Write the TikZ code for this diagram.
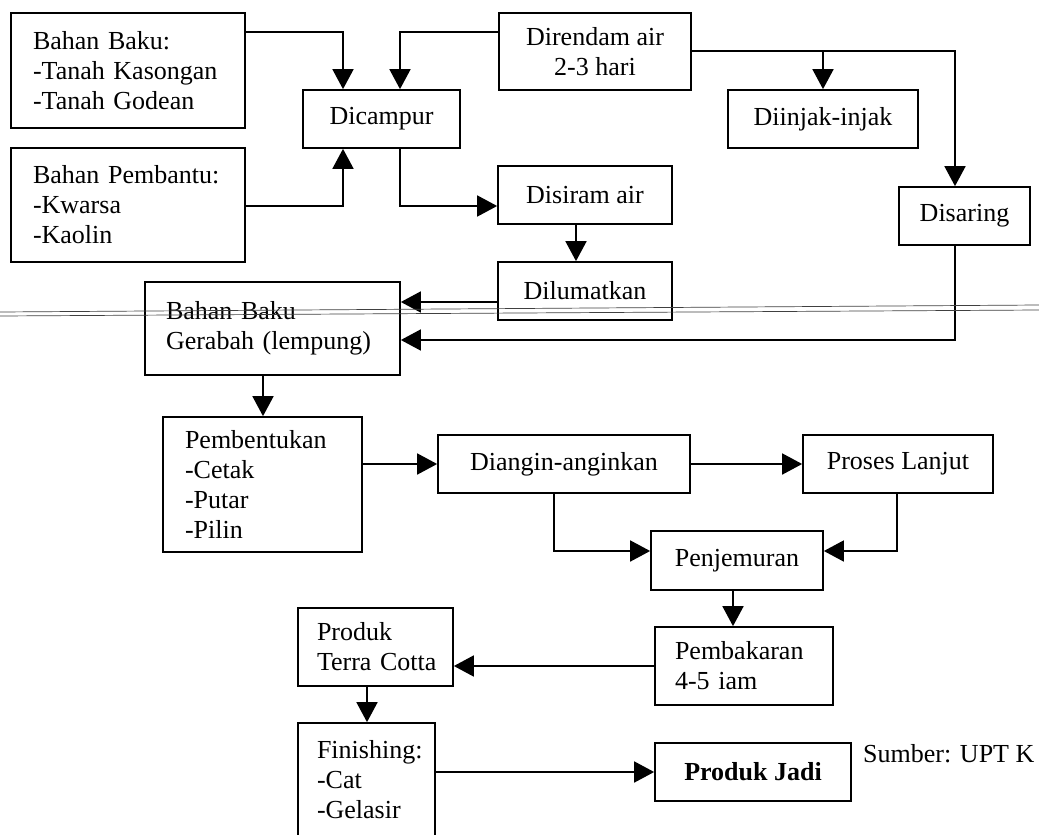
\documentclass[tikz,border=0pt]{standalone}
\usepackage{fontspec}
\setmainfont{Liberation Serif}
\usetikzlibrary{arrows.meta}
\begin{document}
\begin{tikzpicture}[x=1pt,y=-1pt,
  box/.style={draw, line width=1.7pt, inner sep=0pt, font=\fontsize{26}{30}\selectfont},
  arr/.style={line width=1.7pt, -{Triangle[length=20pt,width=21pt]}},
  scanline/.style={line width=0.7pt, black!75}]
\clip (0,0) rectangle (1039,835);
% boxes
\node[box, minimum width=234pt, minimum height=115pt, align=left, text width=190pt] (baku) at (128,70.5) {Bahan Baku:\\-Tanah~Kasongan\\-Tanah~Godean};
\node[box, minimum width=234pt, minimum height=114pt, align=left, text width=190pt] (bantu) at (128,205) {Bahan Pembantu:\\-Kwarsa\\-Kaolin};
\node[box, minimum width=157pt, minimum height=58pt] (campur) at (381.5,119) {Dicampur};
\node[box, minimum width=192pt, minimum height=77pt, align=center] (rendam) at (595,51.5) {Direndam air\\2-3 hari};
\node[box, minimum width=190pt, minimum height=58pt] (injak) at (823,119) {Diinjak-injak};
\node[box, minimum width=174pt, minimum height=58pt] (siram) at (585,195) {Disiram air};
\node[box, minimum width=174pt, minimum height=58pt] (lumat) at (585,291) {Dilumatkan};
\node[box, minimum width=131pt, minimum height=58pt] (saring) at (964.5,216) {Disaring};
\node[box, minimum width=255pt, minimum height=93pt, align=left, text width=213pt] (gerabah) at (272.5,328.5) {Bahan Baku\\Gerabah~(lempung)};
\node[box, minimum width=199pt, minimum height=135pt, align=left, text width=155pt] (bentuk) at (262.5,484.5) {Pembentukan\\-Cetak\\-Putar\\-Pilin};
\fill[white] (164,540) rectangle (361,550.5);
\node[box, minimum width=252pt, minimum height=58pt] (angin) at (564,464) {Diangin-anginkan};
\node[box, minimum width=190pt, minimum height=58pt] (lanjut) at (898,464) {Proses Lanjut};
\node[box, minimum width=172pt, minimum height=59pt] (jemur) at (737,560.5) {Penjemuran};
\node[box, minimum width=178pt, minimum height=78pt, align=left, text width=138pt] (bakar) at (744,666) {Pembakaran\\4-5 iam};
\node[box, minimum width=155pt, minimum height=78pt, align=left, text width=117pt] (terra) at (375.5,647) {Produk\\Terra~Cotta};
\node[box, minimum width=137pt, minimum height=114pt, align=left, text width=99pt] (finish) at (366.5,780) {Finishing:\\-Cat\\-Gelasir};
\node[box, minimum width=196pt, minimum height=58pt, font=\fontsize{26}{30}\selectfont\bfseries] (jadi) at (753,772) {Produk Jadi};
\node[anchor=base west, inner sep=0pt, font=\fontsize{26}{30}\selectfont] (sumber) at (863,762) {Sumber: UPT K};
% junction coordinates
\coordinate (j1) at (343,32);
\coordinate (j2) at (400,32);
\coordinate (j3) at (343,206);
\coordinate (j4) at (400,206);
\coordinate (j5) at (955,51);
\coordinate (j6) at (576,0);
\coordinate (j7) at (0,302);
\coordinate (j8) at (0,340);
\coordinate (j9) at (263,0);
\coordinate (j12a) at (554,551);
\coordinate (j12b) at (897,551);
\coordinate (j14) at (733,0);
\coordinate (j16) at (367,0);
% connectors
\draw[arr] (baku.east|-j1) -| (campur.north-|j1);
\draw[arr] (rendam.west|-j2) -| (campur.north-|j2);
\draw[arr] (bantu.east|-j3) -| (campur.south-|j3);
\draw[arr] (campur.south-|j4) |- (siram.west|-j4);
\draw[arr] (rendam.east|-j5) -| (saring.north-|j5);
\draw[arr] (injak.north|-j5) -- (injak.north);
\draw[arr] (siram.south-|j6) -- (lumat.north-|j6);
\draw[arr] (lumat.west|-j7) -- (gerabah.east|-j7);
\draw[arr] (saring.south-|j5) |- (gerabah.east|-j8);
\draw[arr] (gerabah.south-|j9) -- (bentuk.north-|j9);
\draw[arr] (bentuk.east|-angin.west) -- (angin.west);
\draw[arr] (angin.east) -- (lanjut.west);
\draw[arr] (angin.south-|j12a) |- (jemur.west|-j12a);
\draw[arr] (lanjut.south-|j12b) |- (jemur.east|-j12b);
\draw[arr] (jemur.south-|j14) -- (bakar.north-|j14);
\draw[arr] (bakar.west) -- (terra.east|-bakar.west);
\draw[arr] (terra.south-|j16) -- (finish.north-|j16);
\draw[arr] (finish.east|-jadi.west) -- (jadi.west);
% scan lines across the page
\draw[scanline] (0,312) -- (1039,305);
\draw[scanline] (0,316) -- (1039,310);
\end{tikzpicture}
\end{document}
